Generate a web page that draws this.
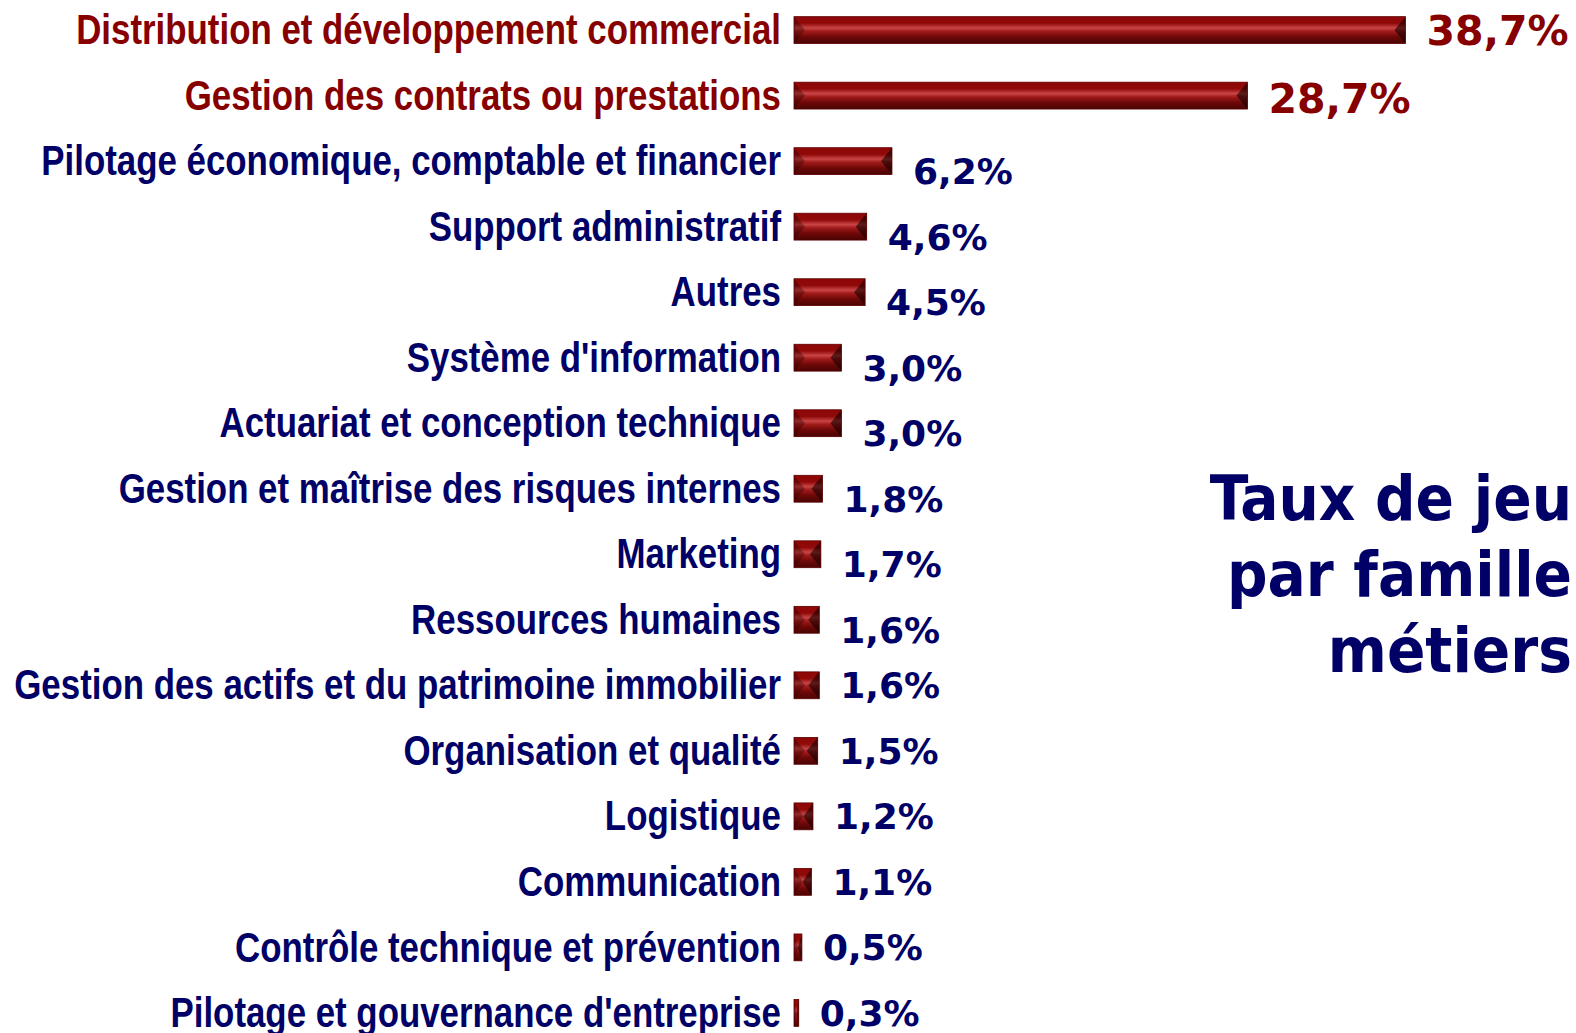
<!DOCTYPE html>
<html>
<head>
<meta charset="utf-8">
<script src="https://cdn.jsdelivr.net/npm/d3@7"></script>
<style>
  html, body { margin: 0; padding: 0; background: #fff; overflow: hidden; }
</style>
</head>
<body>
<div id="chart"></div>
<script>
// Data
const categories = [
  'Distribution et développement commercial',
  'Gestion des contrats ou prestations',
  'Pilotage économique, comptable et financier',
  'Support administratif',
  'Autres',
  "Système d'information",
  'Actuariat et conception technique',
  'Gestion et maîtrise des risques internes',
  'Marketing',
  'Ressources humaines',
  'Gestion des actifs et du patrimoine immobilier',
  'Organisation et qualité',
  'Logistique',
  'Communication',
  'Contrôle technique et prévention',
  "Pilotage et gouvernance d'entreprise"
]
const values = [38.7, 28.7, 6.2, 4.6, 4.5, 3.0, 3.0, 1.8, 1.7, 1.6, 1.6, 1.5, 1.2, 1.1, 0.5, 0.3]
const titleLines = ['Taux de jeu', 'par famille', 'métiers']

let width = 1576
let height = 1033
let red = '#870000'
let navy = '#000066'
let barX = 794
let pxPerPct = 15.8

let svg = d3
  .select('#chart')
  .append('svg')
  .attr('width', width)
  .attr('height', height)

/* Gradient for the bevelled bars */
let defs = svg.append('defs')
let grad = defs
  .append('linearGradient')
  .attr('id', 'barGrad')
  .attr('x1', 0).attr('y1', 0).attr('x2', 0).attr('y2', 1)
;[
  [0, '#8f0606'],
  [0.25, '#900a0a'],
  [0.42, '#c94545'],
  [0.55, '#a01a1a'],
  [0.75, '#6e0808'],
  [1, '#4a0404']
].forEach(s => grad.append('stop').attr('offset', s[0]).attr('stop-color', s[1]))

/* Scales */
let xScale = d3
  .scaleLinear()
  .domain([0, 1])
  .range([0, pxPerPct])

let yScale = d3
  .scaleBand()
  .domain(categories)
  .range([-3, 1046])
  .paddingInner(0.59)
  .paddingOuter(0.3)

let bh = yScale.bandwidth()

let rows = svg
  .append('g')
  .attr('class', 'rows')
  .selectAll('g')
  .data(categories)
  .enter()
  .append('g')
  .attr('transform', d => `translate(0, ${yScale(d)})`)

/* Category labels (narrow bold look: Liberation Sans squeezed horizontally) */
rows
  .append('text')
  .attr('transform', `translate(781, ${bh / 2 - 1}) scale(0.83, 1)`)
  .attr('dy', '0.36em')
  .attr('text-anchor', 'end')
  .style('font-family', '"Liberation Sans", Arial, sans-serif')
  .style('font-weight', 'bold')
  .style('font-size', '42px')
  .style('fill', (d, i) => (i < 2 ? red : navy))
  .text(d => d)

/* Bars */
let bars = rows.append('g').attr('transform', `translate(${barX}, 0)`)

bars
  .append('rect')
  .attr('width', (d, i) => xScale(values[i]))
  .attr('height', bh)
  .style('fill', 'url(#barGrad)')

// bevel ends
bars
  .append('path')
  .attr('d', (d, i) => {
    let w = xScale(values[i])
    let b = Math.min(11, w / 2)
    return `M0,0 L${b},${bh / 2} L0,${bh} Z`
  })
  .style('fill', 'rgba(40,0,0,0.35)')

bars
  .append('path')
  .attr('d', (d, i) => {
    let w = xScale(values[i])
    let b = Math.min(11, w / 2)
    return `M${w},0 L${w - b},${bh / 2} L${w},${bh} Z`
  })
  .style('fill', 'rgba(20,0,0,0.6)')

bars
  .append('rect')
  .attr('width', (d, i) => xScale(values[i]))
  .attr('height', bh)
  .style('fill', 'none')
  .style('stroke', '#5a0000')
  .style('stroke-width', 0.8)

/* Value labels */
rows
  .append('text')
  .attr('x', (d, i) => barX + xScale(values[i]) + 21)
  .attr('y', (d, i) => bh / 2 + (i === 1 ? 3 : i >= 2 && i <= 9 ? 10 : 0))
  .attr('dy', '0.36em')
  .style('font-family', '"DejaVu Sans", Verdana, sans-serif')
  .style('font-weight', 'bold')
  .style('font-size', (d, i) => (i < 2 ? '41px' : '36px'))
  .style('fill', (d, i) => (i < 2 ? red : navy))
  .text((d, i) => d3.format('.1f')(values[i]).replace('.', ',') + '%')

/* Title */
svg
  .append('text')
  .attr('text-anchor', 'end')
  .style('font-family', '"DejaVu Sans Condensed", "DejaVu Sans", sans-serif')
  .style('font-stretch', 'condensed')
  .style('font-weight', 'bold')
  .style('font-size', '63px')
  .style('fill', navy)
  .selectAll('tspan')
  .data(titleLines)
  .enter()
  .append('tspan')
  .attr('x', 1572)
  .attr('y', (d, i) => 520 + i * 76)
  .text(d => d)
</script>
</body>
</html>
